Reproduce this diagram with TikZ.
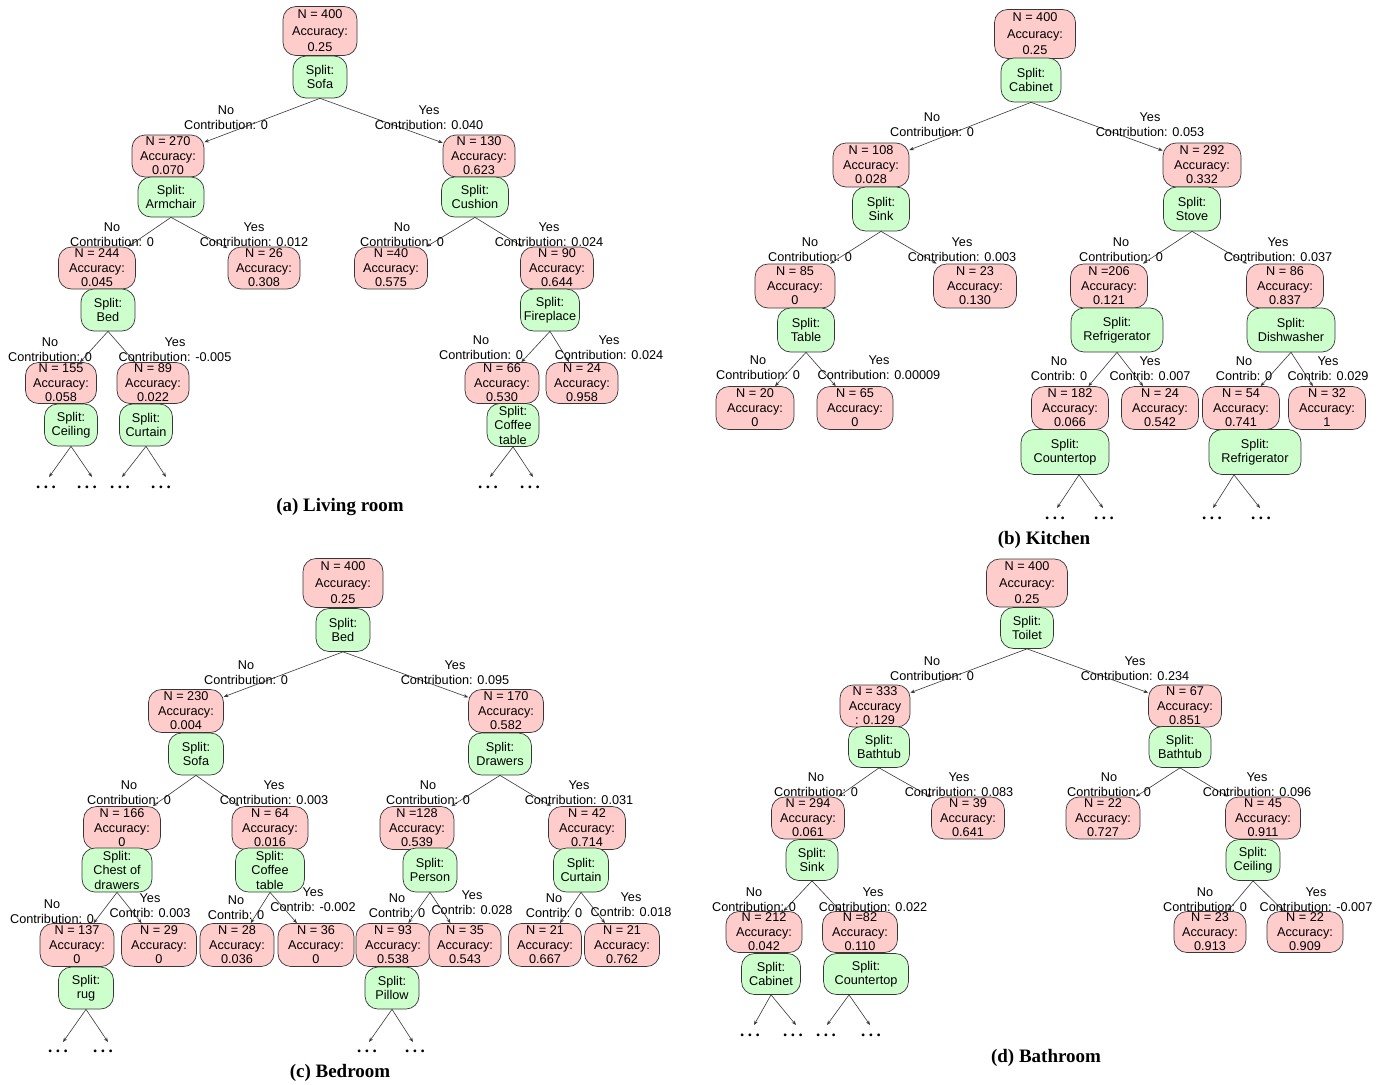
\documentclass[tikz,border=0pt]{standalone}
\usepackage{fontspec}
\setmainfont{Liberation Sans}
\newfontfamily\capserif{Liberation Serif}
\usetikzlibrary{arrows.meta,calc}
\definecolor{redf}{RGB}{255,204,204}
\definecolor{greenf}{RGB}{204,255,204}
\definecolor{linec}{RGB}{55,55,55}
\newcommand{\tdots}{.\kern3.6pt.\kern3.6pt.}
\tikzset{
  rn/.style 2 args={draw=linec, line width=0.7pt, fill=redf, rounded corners=13pt, minimum width=#1, minimum height=#2, inner sep=0pt, align=center, font=\fontsize{12.7}{14.5}\selectfont},
  gn/.style 2 args={draw=linec, line width=0.7pt, fill=greenf, rounded corners=13pt, minimum width=#1, minimum height=#2, inner sep=0pt, align=center, font=\fontsize{12.7}{14.5}\selectfont},
  topnode/.style={font=\fontsize{12.7}{16.5}\selectfont},
  lbl/.style={align=center, inner sep=0pt, font=\fontsize{12.7}{15}\selectfont},
  dotnode/.style={inner sep=0pt, anchor=base, yshift=-1.5pt, font=\fontsize{17}{17}\selectfont\capserif\bfseries},
  conn/.style={draw=linec, line width=0.6pt, -{Stealth[length=4.5pt,width=3.5pt]}},
  captext/.style={inner sep=0pt, font=\fontsize{19}{19}\selectfont\capserif\bfseries}
}
\begin{document}
\begin{tikzpicture}[x=1pt,y=-1pt]
\useasboundingbox (0,0) rectangle (1383,1084);
% ================= (a) Living room =================
\node[rn={74}{49},topnode] (a0) at (320,31) {N = 400\\Accuracy:\\0.25};
\node[gn={54}{42}] (a0s) at (320,77) {Split:\\Sofa};
\node[rn={72}{42}] (a1) at (168,156) {N = 270\\Accuracy:\\0.070};
\node[gn={66}{40}] (a1s) at (171,197) {Split:\\Armchair};
\node[rn={72}{42}] (a2) at (479,156) {N = 130\\Accuracy:\\0.623};
\node[gn={67}{40}] (a2s) at (475,197) {Split:\\Cushion};
\node[rn={77}{42}] (a3) at (97,268) {N = 244\\Accuracy:\\0.045};
\node[gn={54}{42}] (a3s) at (108,310) {Split:\\Bed};
\node[rn={72}{42}] (a4) at (264,268) {N = 26\\Accuracy:\\0.308};
\node[rn={73}{42}] (a5) at (391,268) {N =40\\Accuracy:\\0.575};
\node[rn={73}{42}] (a6) at (557,268) {N = 90\\Accuracy:\\0.644};
\node[gn={59}{42}] (a6s) at (550,310) {Split:\\Fireplace};
\node[rn={71}{41}] (a7) at (61,383) {N = 155\\Accuracy:\\0.058};
\node[gn={53}{42}] (a7s) at (71,425) {Split:\\Ceiling};
\node[rn={72}{41}] (a8) at (153,383) {N = 89\\Accuracy:\\0.022};
\node[gn={53}{42}] (a8s) at (146,425) {Split:\\Curtain};
\node[rn={74}{41}] (a9) at (502,383) {N = 66\\Accuracy:\\0.530};
\node[gn={52}{43}] (a9s) at (513,425) {Split:\\Coffee\\table};
\node[rn={72}{41}] (a10) at (582,383) {N = 24\\Accuracy:\\0.958};
\draw[conn] (a0s.south) -- (a1);
\draw[conn] (a0s.south) -- (a2);
\draw[conn] (a1s.south) -- (a3);
\draw[conn] (a1s.south) -- (a4);
\draw[conn] (a2s.south) -- (a5);
\draw[conn] (a2s.south) -- (a6);
\draw[conn] (a3s.south) -- (a7);
\draw[conn] (a3s.south) -- (a8);
\draw[conn] (a6s.south) -- (a9);
\draw[conn] (a6s.south) -- (a10);
\node[lbl] (la1) at (226,118) {No\\Contribution: 0};
\node[lbl] (la2) at (429,118) {Yes\\Contribution: 0.040};
\node[lbl] (la3) at (112,235) {No\\Contribution: 0};
\node[lbl] (la4) at (254,235) {Yes\\Contribution: 0.012};
\node[lbl] (la5) at (402,235) {No\\Contribution: 0};
\node[lbl] (la6) at (549,235) {Yes\\Contribution: 0.024};
\node[lbl] (la7) at (50,350) {No\\Contribution: 0};
\node[lbl] (la8) at (175,350) {Yes\\Contribution: -0.005};
\node[lbl] (la9) at (481,348) {No\\Contribution: 0};
\node[lbl] (la10) at (609,348) {Yes\\Contribution: 0.024};
\coordinate (a7L) at (49,477); \coordinate (a7R) at (92,477);
\coordinate (a8L) at (122,477); \coordinate (a8R) at (166,477);
\coordinate (a9L) at (490,477); \coordinate (a9R) at (533,477);
\draw[conn] (a7s.south) -- (a7L); \draw[conn] (a7s.south) -- (a7R);
\draw[conn] (a8s.south) -- (a8L); \draw[conn] (a8s.south) -- (a8R);
\draw[conn] (a9s.south) -- (a9L); \draw[conn] (a9s.south) -- (a9R);
\node[dotnode] (ad1) at (46,487) {\tdots};
\node[dotnode] (ad2) at (87,487) {\tdots};
\node[dotnode] (ad3) at (120,487) {\tdots};
\node[dotnode] (ad4) at (161,487) {\tdots};
\node[dotnode] (ad5) at (488,487) {\tdots};
\node[dotnode] (ad6) at (530,487) {\tdots};
\node[captext] (capa) at (340,507) {(a) Living room};
% ================= (b) Kitchen =================
\node[rn={81}{49},topnode] (b0) at (1035,34) {N = 400\\Accuracy:\\0.25};
\node[gn={60}{44}] (b0s) at (1031,80) {Split:\\Cabinet};
\node[rn={76}{44}] (b1) at (871,165) {N = 108\\Accuracy:\\0.028};
\node[gn={57}{44}] (b1s) at (881,209) {Split:\\Sink};
\node[rn={78}{44}] (b2) at (1202,165) {N = 292\\Accuracy:\\0.332};
\node[gn={57}{44}] (b2s) at (1192,209) {Split:\\Stove};
\node[rn={80}{44}] (b3) at (795,286) {N = 85\\Accuracy:\\0};
\node[gn={57}{44}] (b3s) at (806,330) {Split:\\Table};
\node[rn={83}{44}] (b4) at (975,286) {N = 23\\Accuracy:\\0.130};
\node[rn={77}{44}] (b5) at (1109,286) {N =206\\Accuracy:\\0.121};
\node[gn={92}{44}] (b5s) at (1117,330) {Split:\\Refrigerator};
\node[rn={77}{44}] (b6) at (1285,286) {N = 86\\Accuracy:\\0.837};
\node[gn={88}{44}] (b6s) at (1291,330) {Split:\\Dishwasher};
\node[rn={78}{43}] (b7) at (755,408) {N = 20\\Accuracy:\\0};
\node[rn={76}{43}] (b8) at (855,408) {N = 65\\Accuracy:\\0};
\node[rn={77}{43}] (b9) at (1070,408) {N = 182\\Accuracy:\\0.066};
\node[gn={88}{45}] (b9s) at (1065,452) {Split:\\Countertop};
\node[rn={77}{43}] (b10) at (1160,408) {N = 24\\Accuracy:\\0.542};
\node[rn={77}{43}] (b11) at (1241,408) {N = 54\\Accuracy:\\0.741};
\node[gn={92}{45}] (b11s) at (1255,452) {Split:\\Refrigerator};
\node[rn={77}{43}] (b12) at (1327,408) {N = 32\\Accuracy:\\1};
\draw[conn] (b0s.south) -- (b1);
\draw[conn] (b0s.south) -- (b2);
\draw[conn] (b1s.south) -- (b3);
\draw[conn] (b1s.south) -- (b4);
\draw[conn] (b2s.south) -- (b5);
\draw[conn] (b2s.south) -- (b6);
\draw[conn] (b3s.south) -- (b7);
\draw[conn] (b3s.south) -- (b8);
\draw[conn] (b5s.south) -- (b9);
\draw[conn] (b5s.south) -- (b10);
\draw[conn] (b6s.south) -- (b11);
\draw[conn] (b6s.south) -- (b12);
\node[lbl] (lb1) at (932,125) {No\\Contribution: 0};
\node[lbl] (lb2) at (1150,125) {Yes\\Contribution: 0.053};
\node[lbl] (lb3) at (810,250) {No\\Contribution: 0};
\node[lbl] (lb4) at (962,250) {Yes\\Contribution: 0.003};
\node[lbl] (lb5) at (1121,250) {No\\Contribution: 0};
\node[lbl] (lb6) at (1278,250) {Yes\\Contribution: 0.037};
\node[lbl] (lb7) at (758,368) {No\\Contribution: 0};
\node[lbl] (lb8) at (879,368) {Yes\\Contribution: 0.00009};
\node[lbl] (lb9) at (1059,369) {No\\Contrib: 0};
\node[lbl] (lb10) at (1150,369) {Yes\\Contrib: 0.007};
\node[lbl] (lb11) at (1244,369) {No\\Contrib: 0};
\node[lbl] (lb12) at (1328,369) {Yes\\Contrib: 0.029};
\coordinate (b9o) at ($(b9s.south)+(14,0)$);
\coordinate (b11o) at ($(b11s.south)+(-21,0)$);
\coordinate (b9L) at (1057,508); \coordinate (b9R) at (1103,508);
\coordinate (b11L) at (1213,508); \coordinate (b11R) at (1260,508);
\draw[conn] (b9o) -- (b9L); \draw[conn] (b9o) -- (b9R);
\draw[conn] (b11o) -- (b11L); \draw[conn] (b11o) -- (b11R);
\node[dotnode] (bd1) at (1055,518) {\tdots};
\node[dotnode] (bd2) at (1104,518) {\tdots};
\node[dotnode] (bd3) at (1212,518) {\tdots};
\node[dotnode] (bd4) at (1261,518) {\tdots};
\node[captext] (capb) at (1044,540) {(b) Kitchen};
% ================= (c) Bedroom =================
\node[rn={80}{49},topnode] (c0) at (343,583) {N = 400\\Accuracy:\\0.25};
\node[gn={54}{43}] (c0s) at (343,630) {Split:\\Bed};
\node[rn={75}{43}] (c1) at (186,711) {N = 230\\Accuracy:\\0.004};
\node[gn={55}{42}] (c1s) at (196,754) {Split:\\Sofa};
\node[rn={75}{43}] (c2) at (506,711) {N = 170\\Accuracy:\\0.582};
\node[gn={63}{42}] (c2s) at (500,754) {Split:\\Drawers};
\node[rn={77}{43}] (c3) at (122,828) {N = 166\\Accuracy:\\0};
\node[gn={70}{44}] (c3s) at (117,870) {Split:\\Chest of\\drawers};
\node[rn={76}{43}] (c4) at (270,828) {N = 64\\Accuracy:\\0.016};
\node[gn={69}{44}] (c4s) at (270,870) {Split:\\Coffee\\table};
\node[rn={74}{43}] (c5) at (417,828) {N =128\\Accuracy:\\0.539};
\node[gn={54}{44}] (c5s) at (430,870) {Split:\\Person};
\node[rn={77}{43}] (c6) at (587,828) {N = 42\\Accuracy:\\0.714};
\node[gn={55}{44}] (c6s) at (581,870) {Split:\\Curtain};
\node[rn={74}{43}] (c7) at (77,945) {N = 137\\Accuracy:\\0};
\node[gn={55}{42}] (c7s) at (86,988) {Split:\\rug};
\node[rn={75}{43}] (c8) at (159,945) {N = 29\\Accuracy:\\0};
\node[rn={74}{43}] (c9) at (237,945) {N = 28\\Accuracy:\\0.036};
\node[rn={76}{43}] (c10) at (316,945) {N = 36\\Accuracy:\\0};
\node[rn={74}{43}] (c11) at (393,945) {N = 93\\Accuracy:\\0.538};
\node[gn={54}{42}] (c11s) at (392,988) {Split:\\Pillow};
\node[rn={72}{43}] (c12) at (465,945) {N = 35\\Accuracy:\\0.543};
\node[rn={73}{43}] (c13) at (545,945) {N = 21\\Accuracy:\\0.667};
\node[rn={75}{43}] (c14) at (622,945) {N = 21\\Accuracy:\\0.762};
\draw[conn] (c0s.south) -- (c1);
\draw[conn] (c0s.south) -- (c2);
\draw[conn] (c1s.south) -- (c3);
\draw[conn] (c1s.south) -- (c4);
\draw[conn] (c2s.south) -- (c5);
\draw[conn] (c2s.south) -- (c6);
\draw[conn] (c3s.south) -- (c7);
\draw[conn] (c3s.south) -- (c8);
\draw[conn] (c4s.south) -- (c9);
\draw[conn] (c4s.south) -- (c10);
\draw[conn] (c5s.south) -- (c11);
\draw[conn] (c5s.south) -- (c12);
\draw[conn] (c6s.south) -- (c13);
\draw[conn] (c6s.south) -- (c14);
\node[lbl] (lc1) at (246,673) {No\\Contribution: 0};
\node[lbl] (lc2) at (455,673) {Yes\\Contribution: 0.095};
\node[lbl] (lc3) at (129,793) {No\\Contribution: 0};
\node[lbl] (lc4) at (274,793) {Yes\\Contribution: 0.003};
\node[lbl] (lc5) at (428,793) {No\\Contribution: 0};
\node[lbl] (lc6) at (579,793) {Yes\\Contribution: 0.031};
\node[lbl] (lc7) at (52,912) {No\\Contribution: 0};
\node[lbl] (lc8) at (150,906) {Yes\\Contrib: 0.003};
\node[lbl] (lc9) at (236,908) {No\\Contrib: 0};
\node[lbl] (lc10) at (313,900) {Yes\\Contrib: -0.002};
\node[lbl] (lc11) at (397,906) {No\\Contrib: 0};
\node[lbl] (lc12) at (472,903) {Yes\\Contrib: 0.028};
\node[lbl] (lc13) at (554,906) {No\\Contrib: 0};
\node[lbl] (lc14) at (631,905) {Yes\\Contrib: 0.018};
\coordinate (c7L) at (63,1042); \coordinate (c7R) at (108,1042);
\coordinate (c11L) at (369,1042); \coordinate (c11R) at (413,1042);
\draw[conn] (c7s.south) -- (c7L); \draw[conn] (c7s.south) -- (c7R);
\draw[conn] (c11s.south) -- (c11L); \draw[conn] (c11s.south) -- (c11R);
\node[dotnode] (cd1) at (58,1051) {\tdots};
\node[dotnode] (cd2) at (103,1051) {\tdots};
\node[dotnode] (cd3) at (367,1051) {\tdots};
\node[dotnode] (cd4) at (415,1051) {\tdots};
\node[captext] (capc) at (340,1073) {(c) Bedroom};
% ================= (d) Bathroom =================
\node[rn={81}{48},topnode] (d0) at (1027,583) {N = 400\\Accuracy:\\0.25};
\node[gn={53}{41}] (d0s) at (1027,628) {Split:\\Toilet};
\node[rn={70}{42}] (d1) at (875,706) {N = 333\\Accuracy\\: 0.129};
\node[gn={61}{41}] (d1s) at (879,747) {Split:\\Bathtub};
\node[rn={73}{42}] (d2) at (1185,706) {N = 67\\Accuracy:\\0.851};
\node[gn={62}{41}] (d2s) at (1180,747) {Split:\\Bathtub};
\node[rn={73}{42}] (d3) at (808,818) {N = 294\\Accuracy:\\0.061};
\node[gn={52}{41}] (d3s) at (812,860) {Split:\\Sink};
\node[rn={73}{42}] (d4) at (968,818) {N = 39\\Accuracy:\\0.641};
\node[rn={74}{42}] (d5) at (1103,818) {N = 22\\Accuracy:\\0.727};
\node[rn={75}{42}] (d6) at (1263,818) {N = 45\\Accuracy:\\0.911};
\node[gn={54}{41}] (d6s) at (1253,860) {Split:\\Ceiling};
\node[rn={76}{41}] (d7) at (764,932) {N = 212\\Accuracy:\\0.042};
\node[gn={59}{41}] (d7s) at (771,974) {Split:\\Cabinet};
\node[rn={75}{41}] (d8) at (860,932) {N =82\\Accuracy:\\0.110};
\node[gn={85}{41}] (d8s) at (866,974) {Split:\\Countertop};
\node[rn={72}{41}] (d9) at (1210,932) {N = 23\\Accuracy:\\0.913};
\node[rn={76}{41}] (d10) at (1305,932) {N = 22\\Accuracy:\\0.909};
\draw[conn] (d0s.south) -- (d1);
\draw[conn] (d0s.south) -- (d2);
\draw[conn] (d1s.south) -- (d3);
\draw[conn] (d1s.south) -- (d4);
\draw[conn] (d2s.south) -- (d5);
\draw[conn] (d2s.south) -- (d6);
\draw[conn] (d3s.south) -- (d7);
\draw[conn] (d3s.south) -- (d8);
\draw[conn] (d6s.south) -- (d9);
\draw[conn] (d6s.south) -- (d10);
\node[lbl] (ld1) at (932,669) {No\\Contribution: 0};
\node[lbl] (ld2) at (1135,669) {Yes\\Contribution: 0.234};
\node[lbl] (ld3) at (816,785) {No\\Contribution: 0};
\node[lbl] (ld4) at (959,785) {Yes\\Contribution: 0.083};
\node[lbl] (ld5) at (1109,785) {No\\Contribution: 0};
\node[lbl] (ld6) at (1257,785) {Yes\\Contribution: 0.096};
\node[lbl] (ld7) at (754,900) {No\\Contribution: 0};
\node[lbl] (ld8) at (873,900) {Yes\\Contribution: 0.022};
\node[lbl] (ld9) at (1205,900) {No\\Contribution: 0};
\node[lbl] (ld10) at (1316,900) {Yes\\Contribution: -0.007};
\coordinate (d7L) at (754,1025); \coordinate (d7R) at (796,1025);
\coordinate (d8L) at (827,1025); \coordinate (d8R) at (870,1025);
\coordinate (d8o) at ($(d8s.south)+(-17,0)$);
\draw[conn] (d7s.south) -- (d7L); \draw[conn] (d7s.south) -- (d7R);
\draw[conn] (d8o) -- (d8L); \draw[conn] (d8o) -- (d8R);
\node[dotnode] (dd1) at (750,1035) {\tdots};
\node[dotnode] (dd2) at (793,1035) {\tdots};
\node[dotnode] (dd3) at (826,1035) {\tdots};
\node[dotnode] (dd4) at (871,1035) {\tdots};
\node[captext] (capd) at (1046,1058) {(d) Bathroom};
\end{tikzpicture}
\end{document}
